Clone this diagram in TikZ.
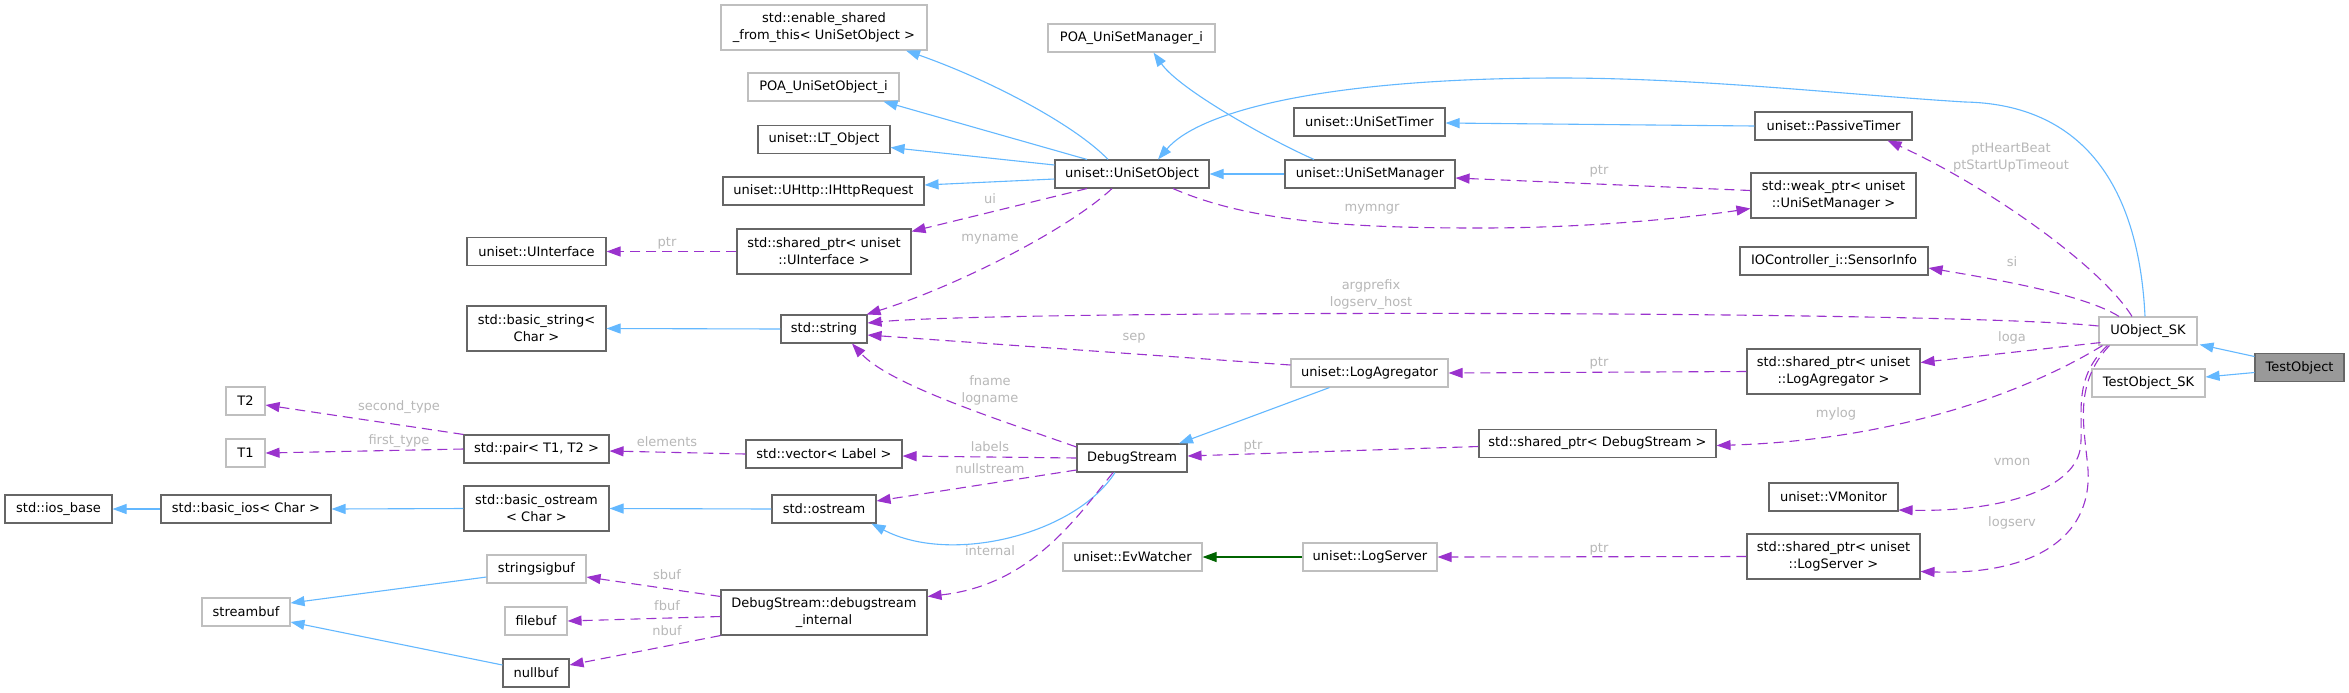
\documentclass[tikz,border=0pt]{standalone}
\usepackage{fontspec}
\setmainfont{DejaVu Sans}
\usetikzlibrary{arrows.meta,calc}
\definecolor{inhblue}{HTML}{63B8FF}
\definecolor{mempurple}{HTML}{9A32CD}
\definecolor{grnline}{HTML}{006400}
\definecolor{boxdark}{HTML}{666666}
\definecolor{boxlight}{HTML}{BFBFBF}
\definecolor{lblgray}{HTML}{B8B8B8}
\definecolor{testgray}{HTML}{999999}
\newcommand\dxf{\fontsize{6.5}{8.5}\selectfont}
\tikzset{
  basebox/.style={fill=white, line width=0.55pt, inner sep=0pt, align=center, font=\dxf, minimum height=14pt},
  dkbox/.style={basebox, draw=boxdark},
  ltbox/.style={basebox, draw=boxlight},
  twoline/.style={minimum height=22.5pt},
  inh/.style={draw=inhblue, line width=0.55pt, -{Triangle[length=7pt,width=5pt]}},
  grn/.style={draw=grnline, line width=0.55pt, -{Triangle[length=7pt,width=5pt]}},
  mem/.style={draw=mempurple, line width=0.55pt, dash pattern=on 5pt off 3pt, -{Triangle[length=7pt,width=5pt]}},
  lbl/.style={text=lblgray, font=\dxf, inner sep=0pt, align=center}
}
\begin{document}
\begin{tikzpicture}[x=0.5pt,y=-0.5pt]
\fill[white] (0,0) rectangle (2349,692);
\useasboundingbox (0,0) rectangle (2349,692);
% nodes
\node[ltbox, twoline, minimum width=103pt] (enable) at (824,27.5) {std::enable\_shared\\\_from\_this< UniSetObject >};
\node[ltbox, minimum width=75.5pt] (poaobj) at (823.5,87) {POA\_UniSetObject\_i};
\node[dkbox, minimum width=66pt] (ltobj) at (824,139.5) {uniset::LT\_Object};
\node[dkbox, minimum width=100.5pt] (http) at (823.5,191) {uniset::UHttp::IHttpRequest};
\node[dkbox, twoline, minimum width=87pt] (spui) at (824,251.5) {std::shared\_ptr< uniset\\::UInterface >};
\node[dkbox, minimum width=69.5pt] (uif) at (536.5,251.5) {uniset::UInterface};
\node[dkbox, twoline, minimum width=69.5pt] (bstr) at (536.5,328.5) {std::basic\_string<\\Char >};
\node[dkbox, minimum width=43pt] (str) at (824,329) {std::string};
\node[ltbox, minimum width=19.5pt] (t2) at (245.5,401) {T2};
\node[ltbox, minimum width=19.5pt] (t1) at (245.5,453) {T1};
\node[dkbox, minimum width=72.5pt] (pair) at (536.5,449) {std::pair< T1, T2 >};
\node[dkbox, minimum width=53.5pt] (iosb) at (58.5,509) {std::ios\_base};
\node[dkbox, minimum width=85pt] (bios) at (246,509) {std::basic\_ios< Char >};
\node[dkbox, twoline, minimum width=72.5pt] (bos) at (536.5,508.5) {std::basic\_ostream\\< Char >};
\node[ltbox, minimum width=49.5pt] (ssb) at (536.5,569) {stringsigbuf};
\node[ltbox, minimum width=44pt] (sb) at (246,612) {streambuf};
\node[ltbox, minimum width=31pt] (fb) at (536,621) {filebuf};
\node[dkbox, minimum width=33pt] (nb) at (536,673) {nullbuf};
\node[dkbox, twoline, minimum width=103pt] (dsi) at (824,612.5) {DebugStream::debugstream\\\_internal};
\node[dkbox, minimum width=78pt] (vec) at (824,454) {std::vector< Label >};
\node[dkbox, minimum width=52pt] (os) at (824,509) {std::ostream};
\node[ltbox, minimum width=83.5pt] (poamgr) at (1131.5,38) {POA\_UniSetManager\_i};
\node[dkbox, minimum width=77pt] (uso) at (1132,174) {uniset::UniSetObject};
\node[dkbox, minimum width=85pt] (usm) at (1370,174) {uniset::UniSetManager};
\node[dkbox, minimum width=75.5pt] (ust) at (1369.5,122) {uniset::UniSetTimer};
\node[ltbox, minimum width=78.5pt] (lag) at (1369.5,373) {uniset::LogAgregator};
\node[dkbox, minimum width=55pt] (ds) at (1132,458) {DebugStream};
\node[ltbox, minimum width=69.5pt] (evw) at (1132.5,557) {uniset::EvWatcher};
\node[ltbox, minimum width=67pt] (lsv) at (1370,557) {uniset::LogServer};
\node[dkbox, minimum width=118.5pt] (spds) at (1597.5,443.5) {std::shared\_ptr< DebugStream >};
\node[dkbox, minimum width=78.5pt] (pt) at (1833.5,126) {uniset::PassiveTimer};
\node[dkbox, twoline, minimum width=82.5pt] (wp) at (1833.5,195.5) {std::weak\_ptr< uniset\\::UniSetManager >};
\node[dkbox, minimum width=94pt] (si) at (1834,261) {IOController\_i::SensorInfo};
\node[ltbox, minimum width=49pt] (usk) at (2148,331) {UObject\_SK};
\node[dkbox, twoline, minimum width=86.5pt] (spla) at (1833.5,371.5) {std::shared\_ptr< uniset\\::LogAgregator >};
\node[dkbox, minimum width=64.5pt] (vm) at (1833.5,497) {uniset::VMonitor};
\node[dkbox, twoline, minimum width=86.5pt] (spls) at (1833.5,556.5) {std::shared\_ptr< uniset\\::LogServer >};
\node[dkbox, fill=testgray, minimum width=44.5pt] (tobj) at (2299.5,367.5) {TestObject};
\node[ltbox, minimum width=56.5pt] (tsk) at (2148.5,383) {TestObject\_SK};
% inheritance edges
\draw[inh] ($(uso.north)+(-24,0)$) .. controls (1075,125) and (990,80) .. ($(enable.south)+(82,0)$);
\draw[inh] ($(uso.north)+(-45,0)$) -- ($(poaobj.south)+(60,0)$);
\draw[inh] ($(uso.west)+(0,-9)$) -- ($(ltobj.east)+(0,8)$);
\draw[inh] ($(uso.west)+(0,5)$) -- ($(http.east)+(0,-6)$);
\draw[inh] (usm.west) -- (uso.east);
\draw[inh] ($(usm.north)+(-56,0)$) .. controls (1270,140) and (1180,90) .. ($(poamgr.south)+(22,0)$);
\draw[inh] (pt.west) -- ($(ust.east)+(0,1)$);
\draw[inh] ($(usk.north)+(-3,0)$) .. controls (2138,170) and (2070,104) .. (1965,102) .. controls (1850,95) and (1700,78) .. (1560,78) .. controls (1330,78) and (1200,110) .. ($(uso.north)+(26,0)$);
\draw[inh] ($(tobj.west)+(0,-11)$) -- ($(usk.south east)+(2,-1)$);
\draw[inh] ($(tobj.west)+(0,5)$) -- ($(tsk.east)+(0,-6)$);
\draw[inh] (str.west) -- (bstr.east);
\draw[inh] (os.west) -- (bos.east);
\draw[inh] (bos.west) -- (bios.east);
\draw[inh] (bios.west) -- (iosb.east);
\draw[inh] ($(ssb.west)+(0,8)$) -- ($(sb.east)+(0,-9)$);
\draw[inh] ($(nb.west)+(0,-8)$) -- ($(sb.east)+(0,10)$);
\draw[inh] ($(ds.south)+(-17,0)$) .. controls (1075,535) and (950,565) .. ($(os.south east)+(-5,0)$);
\draw[inh] ($(lag.south)+(-40,0)$) -- ($(ds.north)+(47,0)$);
\draw[grn] (lsv.west) -- (evw.east);
% member edges
\draw[mem] (spui.west) -- (uif.east);
\draw[mem] ($(uso.south)+(-45,0)$) -- ($(spui.north east)+(0,3)$);
\draw[mem] ($(uso.south)+(-20,0)$) .. controls (1070,228) and (960,285) .. ($(str.north east)+(-1,0)$);
\draw[mem] ($(uso.south)+(41,0)$) .. controls (1250,222) and (1350,228) .. (1480,228) .. controls (1600,228) and (1700,216) .. ($(wp.west)+(0,13)$);
\draw[mem] ($(wp.west)+(0,-5)$) -- ($(usm.east)+(0,4)$);
\draw[mem] ($(usk.north)+(-16,0)$) .. controls (2100,265) and (1985,185) .. ($(pt.south)+(54,0)$);
\draw[mem] ($(usk.north)+(-29,0)$) .. controls (2085,295) and (2000,280) .. ($(si.east)+(0,7)$);
\draw[mem] ($(usk.west)+(0,-5)$) .. controls (1950,310) and (1000,310) .. ($(str.east)+(0,-6)$);
\draw[mem] ($(lag.west)+(0,-8)$) -- ($(str.east)+(0,6)$);
\draw[mem] ($(ds.west)+(0,-11)$) .. controls (1000,420) and (890,385) .. ($(str.south)+(28,0)$);
\draw[mem] (ds.west) -- ($(vec.east)+(0,2)$);
\draw[mem] ($(ds.west)+(0,12)$) -- ($(os.east)+(0,-8)$);
\draw[mem] ($(ds.south)+(-19,0)$) .. controls (1075,520) and (1030,585) .. ($(dsi.north east)+(0,7)$);
\draw[mem] (vec.west) -- ($(pair.east)+(0,2)$);
\draw[mem] (pair.north west) -- ($(t2.east)+(0,4)$);
\draw[mem] (pair.west) -- (t1.east);
\draw[mem] ($(dsi.west)+(0,-16)$) -- ($(ssb.east)+(0,8)$);
\draw[mem] ($(dsi.west)+(0,4)$) -- (fb.east);
\draw[mem] (dsi.south west) -- ($(nb.east)+(0,-8)$);
\draw[mem] ($(spds.west)+(0,3)$) -- ($(ds.east)+(0,-2)$);
\draw[mem] ($(usk.south west)+(4,0)$) .. controls (2030,390) and (1900,440) .. ($(spds.east)+(0,2)$);
\draw[mem] (spla.west) -- (lag.east);
\draw[mem] ($(usk.south west)+(2,-3)$) -- ($(spla.east)+(0,-9)$);
\draw[mem] ($(usk.south west)+(9,0)$) .. controls (2070,380) and (2085,420) .. (2080,450) .. controls (2072,490) and (2000,512) .. ($(vm.east)+(0,13)$);
\draw[mem] ($(usk.south west)+(11,0)$) .. controls (2072,385) and (2085,430) .. (2088,470) .. controls (2092,540) and (2030,575) .. ($(spls.east)+(0,15)$);
\draw[mem] (spls.west) -- (lsv.east);
% labels
\node[lbl] (l1) at (667,243) {ptr};
\node[lbl] (l2) at (990,199) {ui};
\node[lbl] (l3) at (990,239) {myname};
\node[lbl] (l4) at (1372,209) {mymngr};
\node[lbl] (l5) at (1599,171) {ptr};
\node[lbl] (l6) at (2011,157.5) {ptHeartBeat\\ptStartUpTimeout};
\node[lbl] (l7) at (2012,262) {si};
\node[lbl] (l8) at (1371,294.5) {argprefix\\logserv\_host};
\node[lbl] (l9) at (1134,338) {sep};
\node[lbl] (l10) at (990,390.5) {fname\\logname};
\node[lbl] (l11) at (990,447) {labels};
\node[lbl] (l12) at (990,469) {nullstream};
\node[lbl] (l13) at (990,551) {internal};
\node[lbl] (l14) at (667,442) {elements};
\node[lbl] (l15) at (399,407) {second\_type};
\node[lbl] (l16) at (399,441) {first\_type};
\node[lbl] (l17) at (667,575) {sbuf};
\node[lbl] (l18) at (667,606) {fbuf};
\node[lbl] (l19) at (667,631) {nbuf};
\node[lbl] (l20) at (1253,446) {ptr};
\node[lbl] (l21) at (1836,414) {mylog};
\node[lbl] (l22) at (1599,363) {ptr};
\node[lbl] (l23) at (2012,338) {loga};
\node[lbl] (l24) at (2012,462) {vmon};
\node[lbl] (l25) at (2012,523) {logserv};
\node[lbl] (l26) at (1599,549) {ptr};
\end{tikzpicture}
\end{document}
